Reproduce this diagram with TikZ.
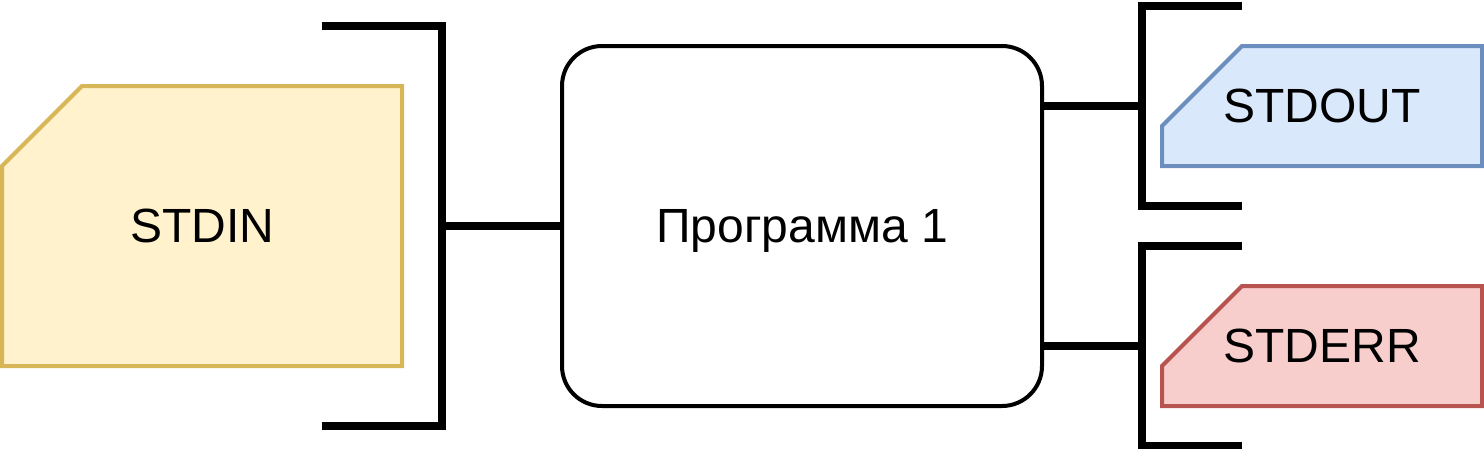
\documentclass[tikz,border=0pt]{standalone}
\usepackage{fontspec}
\setmainfont{Liberation Sans}
\usepackage{tikz}
\usetikzlibrary{backgrounds}

\definecolor{infill}{HTML}{FFF2CC}
\definecolor{inline}{HTML}{D6B656}
\definecolor{outfill}{HTML}{DAE8FC}
\definecolor{outline}{HTML}{6C8EBF}
\definecolor{errfill}{HTML}{F8CECC}
\definecolor{errline}{HTML}{B85450}

\begin{document}
\begin{tikzpicture}[x=1pt,y=-1pt,
		every node/.style={font=\fontsize{48}{58}\selectfont, text depth=0pt, outer sep=0pt},
		bar/.style={line width=8pt},
		card/.style={minimum width=#1, inner sep=0pt}]
		\useasboundingbox (0,0) rectangle (1484,448);
		
		\node[draw, line width=4pt, rounded corners=40pt, minimum width=480, minimum height=360] (prog) at (802,226) {Программа 1};
		\node[card=400, minimum height=280] (stdin) at (202,226) {STDIN};
		\node[card=320, minimum height=120] (stdout) at (1322,106) {STDOUT};
		\node[card=320, minimum height=120] (stderr) at (1322,346) {STDERR};
		
		\foreach \n/\c in {stdin/in, stdout/out, stderr/err} {
			\begin{scope}[on background layer]
			\filldraw[fill=\c fill, draw=\c line, line width=4pt] ([yshift=-80]\n.north west) -- ([xshift=80]\n.north west) -- (\n.north east) -- (\n.south east) -- (\n.south west) -- cycle;
			\end{scope}
		}
		
		\coordinate (inbr) at (442,226);
		\coordinate (outbr) at (1142,106);
		\coordinate (errbr) at (1142,346);
		
		\draw[bar] ([shift={(-120,-200)}]inbr) -- ([shift={(0,-200)}]inbr) -- ([shift={(0,200)}]inbr) -- ([shift={(-120,200)}]inbr);
		\draw[bar] (inbr) -- (prog.west);
		\foreach \b in {outbr, errbr} {
			\draw[bar] ([shift={(100,-100)}]\b) -- ([shift={(0,-100)}]\b) -- ([shift={(0,100)}]\b) -- ([shift={(100,100)}]\b);
			\draw[bar] (prog.east |- \b) -- (\b);
		}
	\end{tikzpicture}
\end{document}
